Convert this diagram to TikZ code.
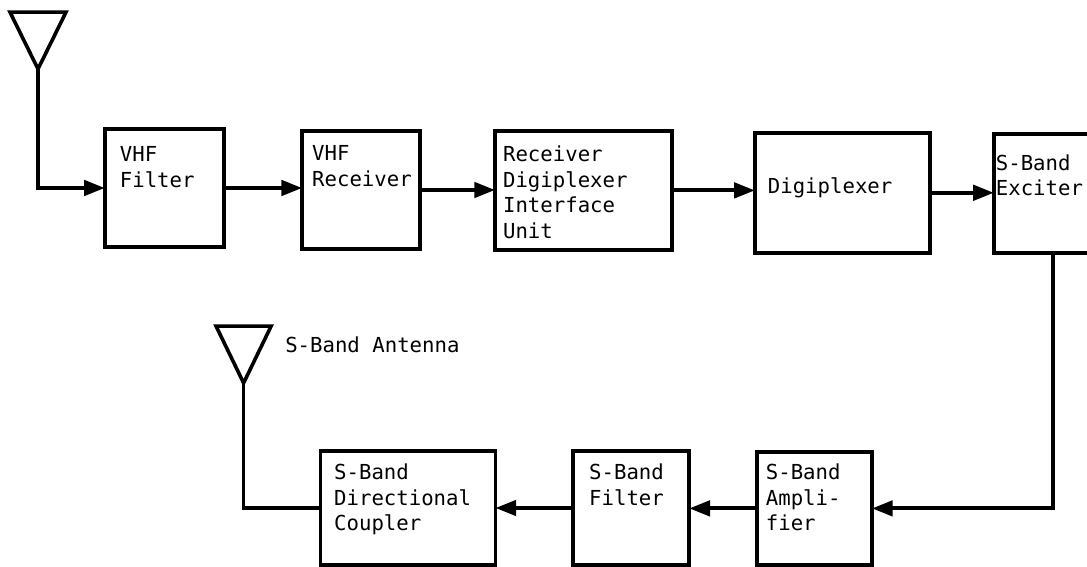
\documentclass[tikz,border=0pt]{standalone}
\usepackage{fontspec}
\setmonofont{DejaVu Sans Mono}
\usetikzlibrary{shapes.geometric,arrows.meta,calc}
\tikzset{
  blockbox/.style n args={4}{draw,line width=0.09cm,outer sep=0pt,inner ysep=0pt,align=left,
    font=\ttfamily\fontsize{14.7pt}{18.1pt}\selectfont,
    text width=#1,inner xsep=#2,text height=#3,text depth=#4},
  antenna/.style={draw,isosceles triangle,isosceles triangle stretches,shape border rotate=-90,
    line width=0.09cm,inner sep=0pt,outer sep=0pt,minimum width=1.4cm,minimum height=1.42cm,anchor=apex},
}
\begin{document}
\begin{tikzpicture}[
    arr/.style={-{Triangle[length=0.52cm,width=0.38cm]},line width=0.1cm},
    wire/.style={line width=0.08cm},
  ]
  \useasboundingbox (0,0) rectangle (27.175,14.15);

  \node[antenna] (vhfant) at (0.95,12.425) {};
  \node[blockbox={2.225cm}{0.375cm}{0.825cm}{2.125cm}] (vhffilter) at (4.11,9.45) {VHF\\Filter};
  \node[blockbox={2.45cm}{0.25cm}{0.75cm}{2.2cm}] (vhfrx) at (9.03,9.4) {VHF\\Receiver};
  \node[blockbox={4.025cm}{0.2cm}{0.775cm}{2.2cm}] (rdiu) at (14.59,9.39) {Receiver\\Digiplexer\\Interface\\Unit};
  \node[blockbox={3.725cm}{0.325cm}{1.525cm}{1.475cm}] (digi) at (21.06,9.33) {Digiplexer};
  \node[blockbox={2.425cm}{0.05cm}{0.9cm}{2.075cm}] (exciter) at (26.11,9.31) {S-Band\\Exciter};

  \node[antenna,minimum width=1.375cm] (sant) at (6.09,4.575) {};
  \node[font=\ttfamily\fontsize{14.7pt}{18.1pt}\selectfont,anchor=base west,inner sep=0pt] (santlabel) at (7.125,5.325) {S-Band Antenna};
  \node[blockbox={3.69cm}{0.34cm}{0.725cm}{2.125cm}] (coupler) at (10.2,1.45) {S-Band\\Directional\\Coupler};
  \node[blockbox={2.1cm}{0.4cm}{0.725cm}{2.125cm}] (sfilter) at (15.78,1.45) {S-Band\\Filter};
  \node[blockbox={2.425cm}{0.225cm}{0.7cm}{2.125cm}] (samp) at (20.36,1.44) {S-Band\\Ampli-\\fier};

  \coordinate (excout) at ($(exciter.south west)+(1.475,0)$);

  \draw[arr] (vhfant.apex) |- (vhffilter.west);
  \draw[arr] (vhffilter.east) -- (vhffilter.east -| vhfrx.west);
  \draw[arr] (vhfrx.east) -- (vhfrx.east -| rdiu.west);
  \draw[arr] (rdiu.east) -- (rdiu.east -| digi.west);
  \draw[arr] (digi.east) -- (digi.east -| exciter.west);
  \draw[arr] (excout) |- (samp.east);
  \draw[arr] (samp.west) -- (samp.west -| sfilter.east);
  \draw[arr] (sfilter.west) -- (sfilter.west -| coupler.east);
  \draw[wire] (coupler.west) -| (sant.apex);
\end{tikzpicture}
\end{document}
